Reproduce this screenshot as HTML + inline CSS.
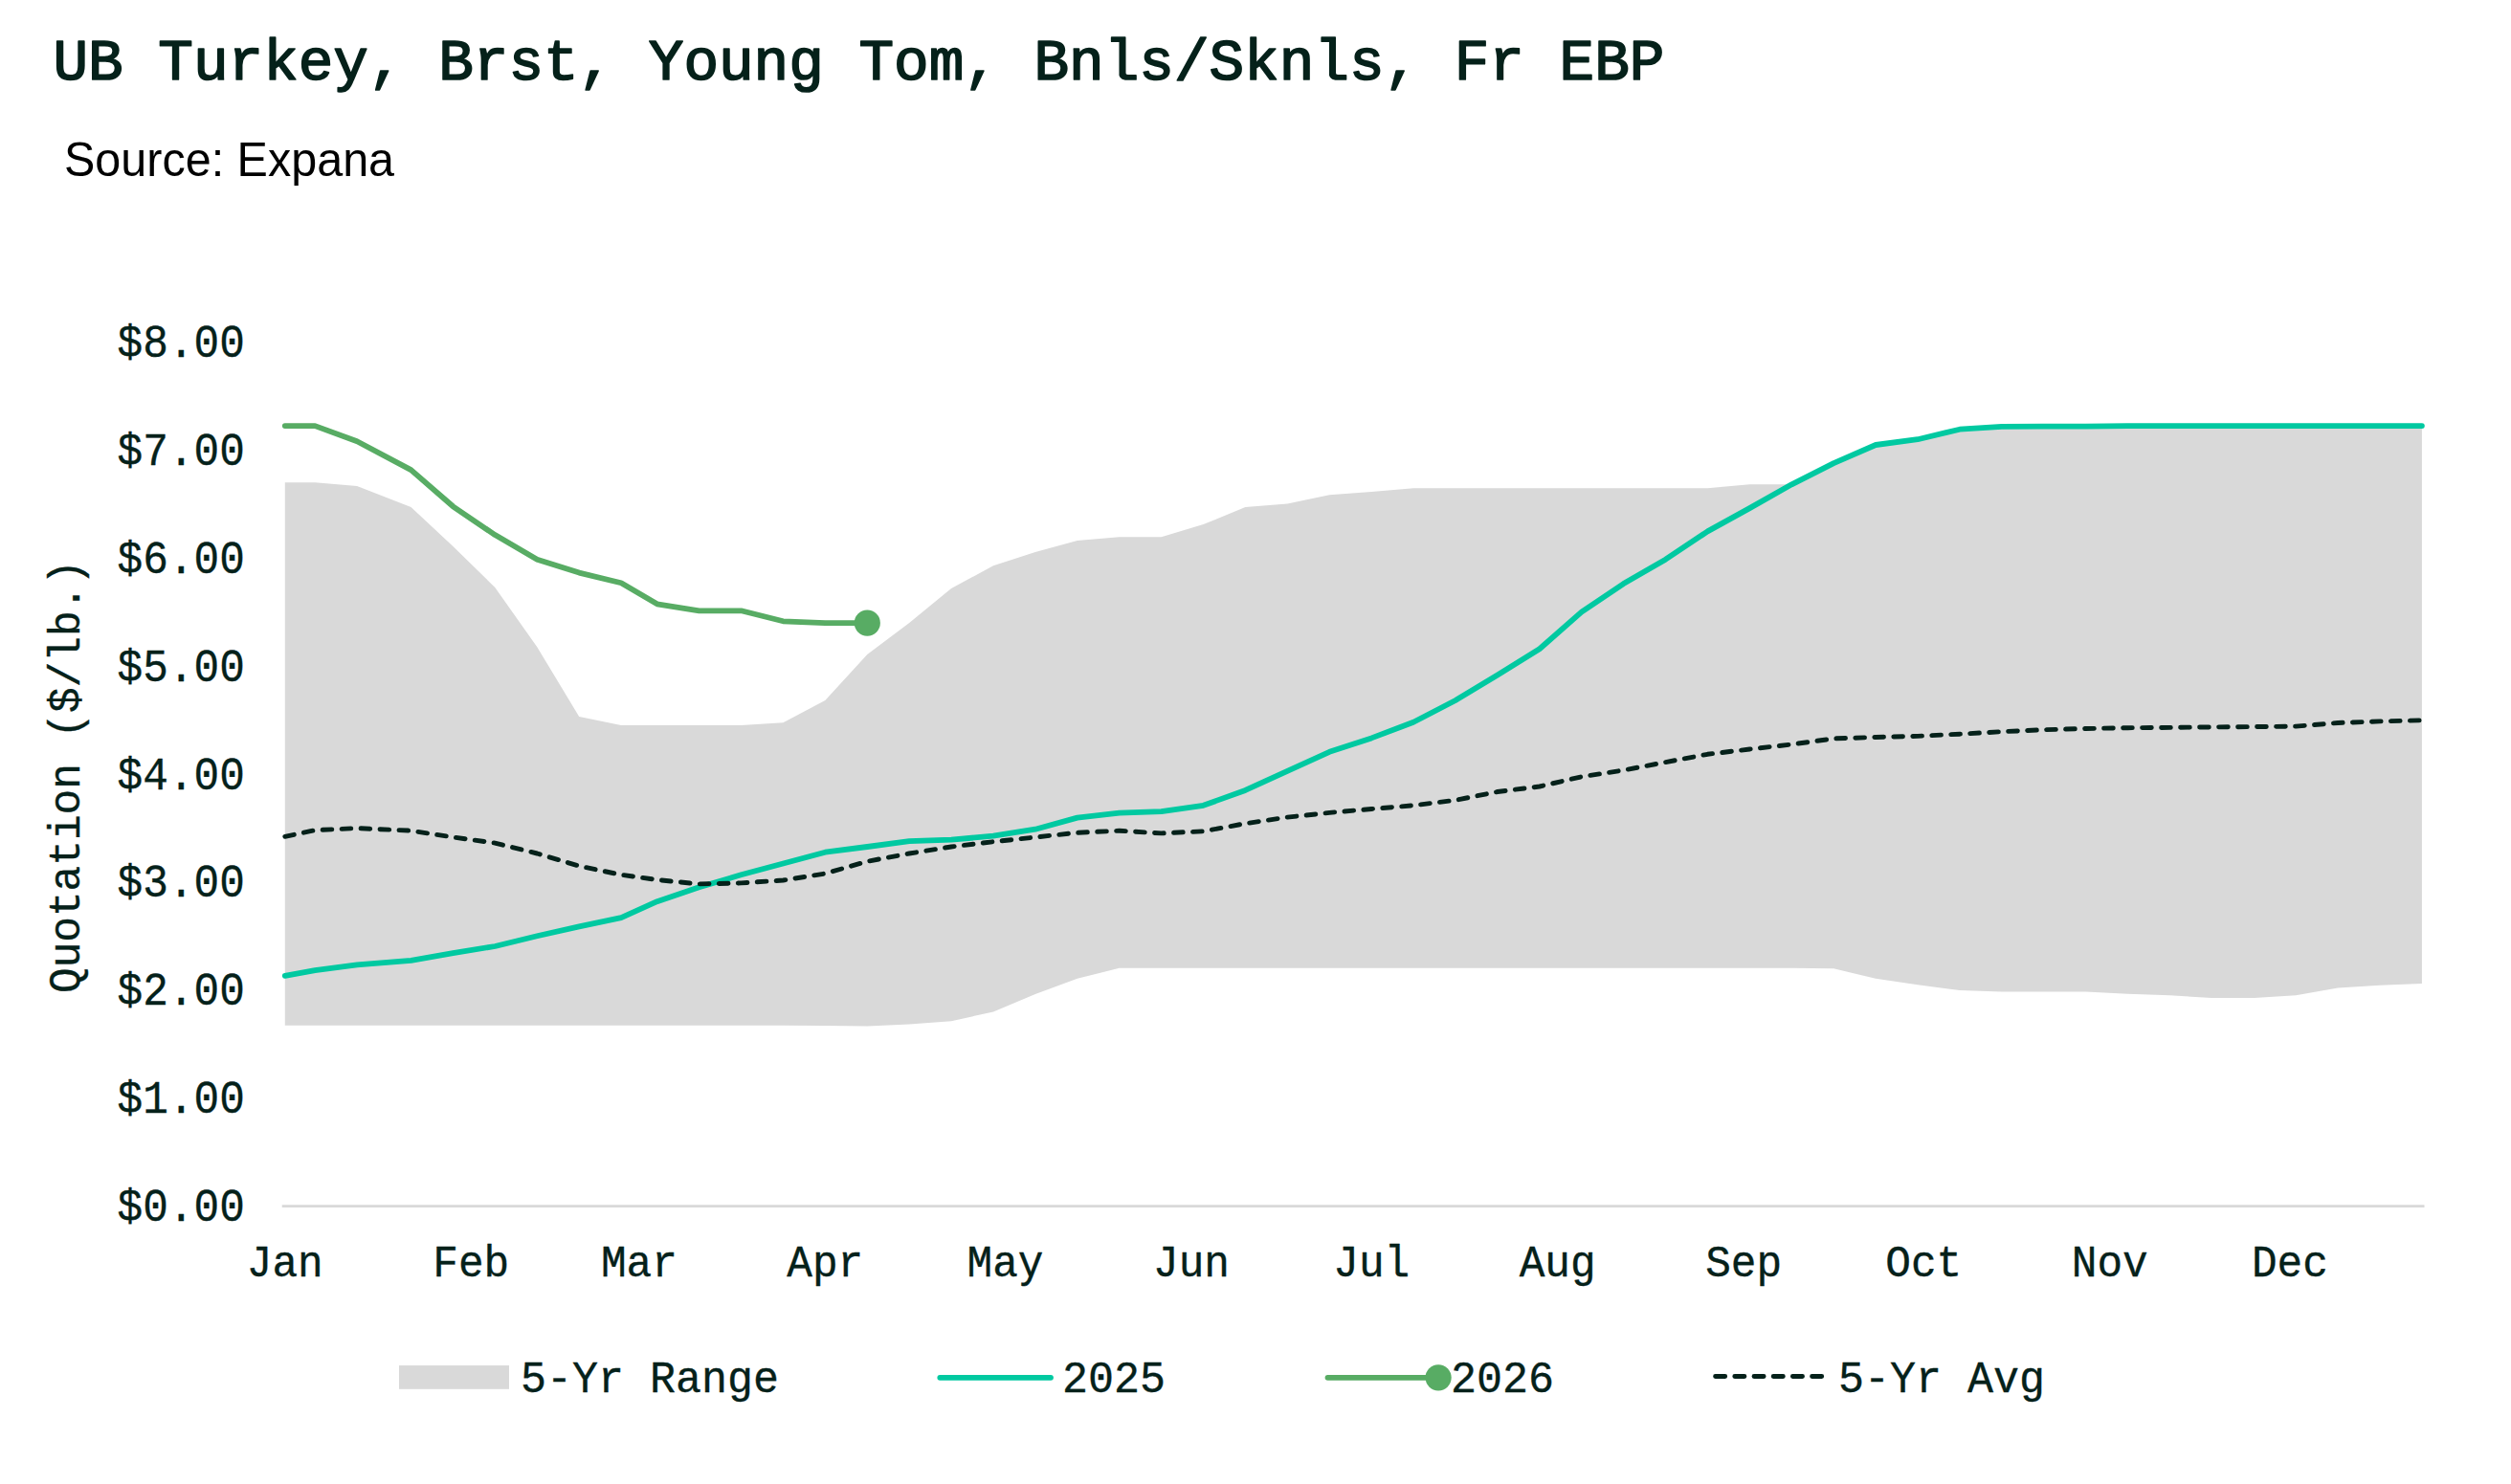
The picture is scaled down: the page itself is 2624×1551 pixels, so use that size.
<!DOCTYPE html>
<html lang="en"><head><meta charset="utf-8"><title>UB Turkey, Brst, Young Tom, Bnls/Sknls, Fr EBP</title>
<style>
html,body{margin:0;padding:0;background:#fff;}
body{width:2624px;height:1551px;overflow:hidden;}
svg{display:block;}
text{font-family:'Liberation Mono', monospace;fill:#05211a;}
.t{font-size:45px;}
text{stroke:#05211a;stroke-width:0.35px;stroke-linejoin:round;}
</style></head><body>
<svg width="2624" height="1551" viewBox="0 0 2624 1551">
<rect width="2624" height="1551" fill="#ffffff"/>
<text style="font-size:61px;stroke-width:1.7" transform="translate(55.5 82.5) scale(1 1.000)" text-anchor="start">UB Turkey, Brst, Young Tom, Bnls/Sknls, Fr EBP</text>
<text transform="translate(67 183.6) scale(0.97 1)" style="font-family:'Liberation Sans', sans-serif;font-size:50px;fill:#000;stroke:none">Source: Expana</text>
<path d="M297.8,504.2 L329.2,504.2 L373.1,508.1 L429.5,530.1 L473.4,571.1 L517.3,614.0 L561.3,676.2 L605.2,748.9 L649.1,758.1 L686.7,758.1 L730.6,758.1 L774.5,758.1 L818.4,755.2 L862.3,731.9 L906.3,684.1 L950.2,651.1 L994.1,615.0 L1038.0,591.3 L1081.9,577.1 L1125.8,565.1 L1169.7,561.2 L1213.6,561.2 L1257.5,548.1 L1301.4,530.1 L1345.3,526.4 L1389.3,517.3 L1433.2,514.1 L1477.1,510.2 L1521.0,510.2 L1564.9,510.2 L1608.8,510.2 L1652.7,510.2 L1696.6,510.2 L1740.5,510.2 L1784.4,510.2 L1828.4,506.3 L1872.3,506.3 L1916.2,484.1 L1960.1,465.0 L2004.0,459.2 L2047.9,448.7 L2091.8,445.9 L2135.7,445.6 L2179.6,445.6 L2223.5,445.1 L2267.4,445.1 L2311.4,445.1 L2355.3,445.1 L2399.2,445.1 L2443.1,445.1 L2487.0,445.1 L2530.9,445.1 L2530.9,1028.0 L2487.0,1029.8 L2443.1,1032.4 L2399.2,1040.3 L2355.3,1042.9 L2311.4,1042.9 L2267.4,1040.3 L2223.5,1038.7 L2179.6,1036.6 L2135.7,1036.6 L2091.8,1036.6 L2047.9,1035.1 L2004.0,1029.3 L1960.1,1022.8 L1916.2,1012.3 L1872.3,1011.8 L1828.4,1011.8 L1784.4,1011.8 L1740.5,1011.8 L1696.6,1011.8 L1652.7,1011.8 L1608.8,1011.8 L1564.9,1011.8 L1521.0,1011.8 L1477.1,1011.8 L1433.2,1011.8 L1389.3,1011.8 L1345.3,1011.8 L1301.4,1011.8 L1257.5,1011.8 L1213.6,1011.8 L1169.7,1011.8 L1125.8,1022.8 L1081.9,1039.0 L1038.0,1057.5 L994.1,1067.2 L950.2,1070.6 L906.3,1072.4 L862.3,1071.9 L818.4,1071.7 L774.5,1071.7 L730.6,1071.7 L686.7,1071.7 L649.1,1071.7 L605.2,1071.7 L561.3,1071.7 L517.3,1071.7 L473.4,1071.7 L429.5,1071.7 L373.1,1071.7 L329.2,1071.7 L297.8,1071.7Z" fill="#d9d9d9"/>
<line x1="294.7" x2="2533.5" y1="1260.6" y2="1260.6" stroke="#d9d9d9" stroke-width="2.9"/>
<polyline points="297.8,1019.9 329.2,1014.1 373.1,1008.4 429.5,1003.9 473.4,996.1 517.3,989.0 561.3,978.3 605.2,968.4 649.1,959.2 686.7,942.2 730.6,927.3 774.5,914.3 818.4,902.5 862.3,890.7 906.3,885.0 950.2,879.2 994.1,877.7 1038.0,873.7 1081.9,866.7 1125.8,854.6 1169.7,849.7 1213.6,848.1 1257.5,841.8 1301.4,825.9 1345.3,805.8 1389.3,785.8 1433.2,771.4 1477.1,754.8 1521.0,732.0 1564.9,705.5 1608.8,678.3 1652.7,639.6 1696.6,610.1 1740.5,584.7 1784.4,555.4 1828.4,531.1 1872.3,506.3 1916.2,484.1 1960.1,465.0 2004.0,459.2 2047.9,448.7 2091.8,445.9 2135.7,445.6 2179.6,445.6 2223.5,445.1 2267.4,445.1 2311.4,445.1 2355.3,445.1 2399.2,445.1 2443.1,445.1 2487.0,445.1 2530.9,445.1" fill="none" stroke="#00c9a1" stroke-width="5.8" stroke-linecap="round" stroke-linejoin="round"/>
<polyline points="297.8,445.1 329.2,445.1 373.1,461.3 429.5,491.1 473.4,529.3 517.3,559.1 561.3,584.7 605.2,598.6 649.1,609.3 686.7,631.3 730.6,638.3 774.5,638.3 818.4,649.3 862.3,651.1 906.3,651.1" fill="none" stroke="#58ac64" stroke-width="5.8" stroke-linecap="round" stroke-linejoin="round"/>
<circle cx="906.3" cy="651.1" r="13.6" fill="#58ac64"/>
<polyline points="297.8,874.3 329.2,867.7 373.1,865.6 429.5,868.2 473.4,875.0 517.3,881.1 561.3,892.0 605.2,905.1 649.1,914.3 686.7,919.5 730.6,923.9 774.5,922.9 818.4,920.0 862.3,913.0 906.3,900.3 950.2,892.0 994.1,885.0 1038.0,879.7 1081.9,875.0 1125.8,870.3 1169.7,868.2 1213.6,870.9 1257.5,868.8 1301.4,860.7 1345.3,854.1 1389.3,849.4 1433.2,845.5 1477.1,841.8 1521.0,836.3 1564.9,827.5 1608.8,822.0 1652.7,811.8 1696.6,805.0 1740.5,796.6 1784.4,788.3 1828.4,783.0 1872.3,778.0 1916.2,771.9 1960.1,770.5 2004.0,769.4 2047.9,767.2 2091.8,764.7 2135.7,762.7 2179.6,761.5 2223.5,760.7 2267.4,760.4 2311.4,759.9 2355.3,759.6 2399.2,759.1 2443.1,755.5 2487.0,753.9 2530.9,752.8" fill="none" stroke="#05211a" stroke-width="4.9" stroke-linecap="round" stroke-linejoin="round" stroke-dasharray="9.7 10.3"/>
<text style="font-size:44.4px" transform="translate(255.8 1276.0) scale(1 1.075)" text-anchor="end">$0.00</text>
<text style="font-size:44.4px" transform="translate(255.8 1163.1) scale(1 1.075)" text-anchor="end">$1.00</text>
<text style="font-size:44.4px" transform="translate(255.8 1050.3) scale(1 1.075)" text-anchor="end">$2.00</text>
<text style="font-size:44.4px" transform="translate(255.8 937.4) scale(1 1.075)" text-anchor="end">$3.00</text>
<text style="font-size:44.4px" transform="translate(255.8 824.5) scale(1 1.075)" text-anchor="end">$4.00</text>
<text style="font-size:44.4px" transform="translate(255.8 711.6) scale(1 1.075)" text-anchor="end">$5.00</text>
<text style="font-size:44.4px" transform="translate(255.8 598.8) scale(1 1.075)" text-anchor="end">$6.00</text>
<text style="font-size:44.4px" transform="translate(255.8 485.9) scale(1 1.075)" text-anchor="end">$7.00</text>
<text style="font-size:44.4px" transform="translate(255.8 373.0) scale(1 1.075)" text-anchor="end">$8.00</text>
<text style="font-size:44.4px" transform="translate(297.8 1334.3) scale(1 1.030)" text-anchor="middle">Jan</text>
<text style="font-size:44.4px" transform="translate(492.3 1334.3) scale(1 1.030)" text-anchor="middle">Feb</text>
<text style="font-size:44.4px" transform="translate(667.9 1334.3) scale(1 1.030)" text-anchor="middle">Mar</text>
<text style="font-size:44.4px" transform="translate(862.3 1334.3) scale(1 1.030)" text-anchor="middle">Apr</text>
<text style="font-size:44.4px" transform="translate(1050.5 1334.3) scale(1 1.030)" text-anchor="middle">May</text>
<text style="font-size:44.4px" transform="translate(1245.0 1334.3) scale(1 1.030)" text-anchor="middle">Jun</text>
<text style="font-size:44.4px" transform="translate(1433.2 1334.3) scale(1 1.030)" text-anchor="middle">Jul</text>
<text style="font-size:44.4px" transform="translate(1627.6 1334.3) scale(1 1.030)" text-anchor="middle">Aug</text>
<text style="font-size:44.4px" transform="translate(1822.1 1334.3) scale(1 1.030)" text-anchor="middle">Sep</text>
<text style="font-size:44.4px" transform="translate(2010.3 1334.3) scale(1 1.030)" text-anchor="middle">Oct</text>
<text style="font-size:44.4px" transform="translate(2204.7 1334.3) scale(1 1.030)" text-anchor="middle">Nov</text>
<text style="font-size:44.4px" transform="translate(2392.9 1334.3) scale(1 1.030)" text-anchor="middle">Dec</text>
<text style="font-size:44.4px" transform="translate(83.4 811.5) rotate(-90) scale(1 1.030)" text-anchor="middle">Quotation ($/lb.)</text>
<rect x="417" y="1427.1" width="115" height="24.7" fill="#d9d9d9"/>
<text class="t" transform="translate(544.0 1454.6) scale(1 1.030)" text-anchor="start">5-Yr Range</text>
<line x1="982.3" x2="1098" y1="1439.8" y2="1439.8" stroke="#00c9a1" stroke-width="5.8" stroke-linecap="round"/>
<text class="t" transform="translate(1110.0 1454.6) scale(1 1.030)" text-anchor="start">2025</text>
<line x1="1387.5" x2="1503.1" y1="1439.8" y2="1439.8" stroke="#58ac64" stroke-width="5.8" stroke-linecap="round"/>
<circle cx="1503.1" cy="1439.8" r="13.6" fill="#58ac64"/>
<text class="t" transform="translate(1516.0 1454.6) scale(1 1.030)" text-anchor="start">2026</text>
<line x1="1792.6" x2="1905" y1="1438.5" y2="1438.5" stroke="#05211a" stroke-width="4.9" stroke-linecap="round" stroke-dasharray="10.1 10.1"/>
<text class="t" transform="translate(1921.0 1454.6) scale(1 1.030)" text-anchor="start">5-Yr Avg</text>
</svg>
</body></html>
